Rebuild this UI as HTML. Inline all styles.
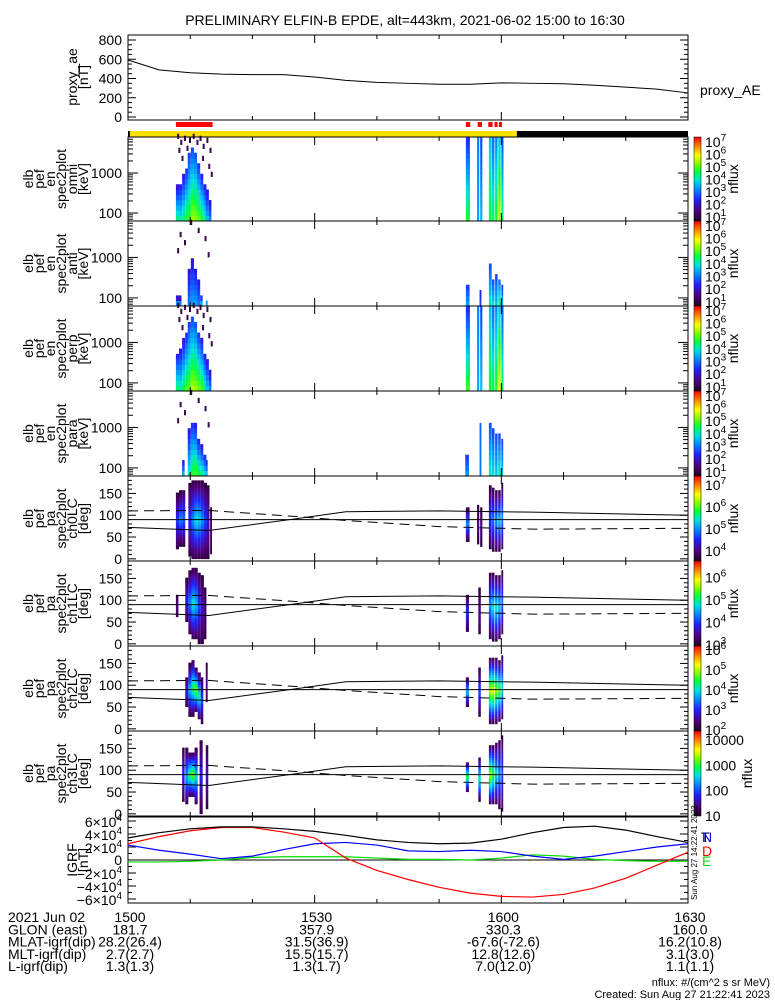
<!DOCTYPE html>
<html><head><meta charset="utf-8">
<style>
html,body{margin:0;padding:0;background:#fff;}
svg{display:block;font-family:"Liberation Sans",sans-serif;}
</style></head>
<body>
<svg id="chart" width="775" height="1000" viewBox="0 0 775 1000" xmlns="http://www.w3.org/2000/svg">
<defs>
<linearGradient id="cbar" x1="0" y1="1" x2="0" y2="0">
<stop offset="0" stop-color="#200020"/><stop offset="0.12" stop-color="#500080"/>
<stop offset="0.25" stop-color="#2020ff"/><stop offset="0.38" stop-color="#0090ff"/>
<stop offset="0.48" stop-color="#00e0e0"/><stop offset="0.58" stop-color="#00ff40"/>
<stop offset="0.68" stop-color="#80ff00"/><stop offset="0.78" stop-color="#ffff00"/>
<stop offset="0.88" stop-color="#ff9000"/><stop offset="1" stop-color="#ff0000"/>
</linearGradient>
</defs>
<text x="405" y="25" font-size="14" text-anchor="middle">PRELIMINARY ELFIN-B EPDE, alt=443km, 2021-06-02 15:00 to 16:30</text>
</svg>
<script>
// ---------- data ----------
const aeMinutes=[0,5,10,15,20,25,30,35,40,45,50,55,60,65,70,75,80,85,90];
const aeValues=[592,490,460,445,440,440,415,380,360,350,340,340,355,350,345,330,310,290,250];
const igrfMinutes=[0,5,10,15,20,25,30,35,40,45,50,55,60,65,70,75,80,85,90];
const igrfTotal=[3.4,4.2,4.8,5.1,5.1,4.8,4.4,3.8,3.1,2.7,2.5,2.6,3.2,4.2,5.0,5.2,4.6,3.6,2.7];
const igrfD=[2.5,3.6,4.5,5.0,5.0,4.3,3.4,0.3,-1.6,-3.0,-4.2,-5.1,-5.6,-5.7,-5.3,-4.3,-2.8,-0.8,1.2];
const igrfN=[2.3,1.5,0.9,0.2,0.6,1.6,2.5,2.7,2.3,1.4,1.3,1.5,1.3,0.6,0.1,0.6,1.3,2.0,2.5];
const igrfE=[-0.3,-0.3,-0.2,0,0.4,0.5,0.5,0.5,0.3,0.1,0.1,0,0.3,0.8,0.6,0.1,-0.1,-0.2,-0.2];
const lcMinutes=[0,13,27,35,50,65,90];
const lossCone=[72,65,92,108,110,107,100];
const antiLossCone=[110,111,97,88,74,68,70];
const sciZoneStart=[7.7,54.3,56.2,57.9,58.9,59.6];
const sciZoneEnd=[13.6,55.0,56.9,58.6,59.4,60.1];
const dayStart=0.3, nightStart=62.5;
// energy spectrogram columns: [minute, widthMin, logFluxBottom, logFluxTop, logEtop]
const omniCols=[[7.7,.5,4.2,2.0,2.6],[8.2,.5,4.0,2.0,2.7],[8.7,.5,4.3,2.0,2.9],[9.2,.5,4.6,2.2,3.1],[9.6,.5,4.8,2.5,3.4],[10.1,.5,5.3,2.5,3.6],[10.6,.5,5.2,2.5,3.5],[11.1,.5,5.0,2.3,3.2],[11.6,.5,4.6,2.2,2.9],[12.1,.5,4.2,2.0,2.7],[12.5,.5,3.5,2.0,2.5],[13.0,.4,3.0,2.0,2.2],
 [54.3,.65,4.6,2.2,3.9],[56.1,.35,3.3,3.0,3.9],[56.6,.35,3.5,2.5,3.9],[58.0,.45,4.5,3.5,3.9],[58.5,.4,4.3,2.8,3.9],[59.0,.4,4.6,3.0,3.9],[59.5,.4,5.5,3.5,3.9],[60.0,.35,4.3,2.5,3.9]];
const antiCols=[[7.7,.5,3.2,1.5,2.0],[8.2,.4,3.0,1.5,1.95],[9.6,.5,3.0,2.0,2.6],[10.1,.5,3.3,2.0,2.9],[10.6,.5,3.3,2.0,2.7],[11.1,.5,3.0,2.0,2.4],[11.6,.4,3.4,2.0,2.0],[12.5,.3,3.3,2.0,1.9],
 [54.3,.6,3.3,2.5,2.2],[56.5,.3,2.5,2.2,2.1],[58.0,.45,4.0,2.5,2.8],[58.5,.4,3.8,2.5,2.4],[59.0,.4,3.5,2.5,2.5],[59.5,.4,4.2,2.8,2.4],[60.0,.3,3.5,2.5,2.2]];
const perpCols=[[7.7,.5,4.3,2.0,2.7],[8.2,.5,4.1,2.0,2.8],[8.7,.5,4.5,2.0,3.0],[9.2,.5,4.8,2.2,3.2],[9.6,.5,5.0,2.5,3.4],[10.1,.5,5.4,2.5,3.6],[10.6,.5,5.3,2.5,3.5],[11.1,.5,5.1,2.3,3.2],[11.6,.5,4.8,2.2,3.0],[12.1,.5,4.3,2.0,2.7],[12.5,.5,3.6,2.0,2.5],[13.0,.4,3.0,2.0,2.2],
 [54.3,.65,4.8,2.2,3.9],[56.1,.35,3.4,3.0,3.9],[56.6,.35,3.6,2.5,3.9],[58.0,.45,4.6,3.5,3.9],[58.5,.4,4.4,2.8,3.9],[59.0,.4,4.7,3.0,3.9],[59.5,.4,5.7,3.5,3.9],[60.0,.35,4.4,2.5,3.9]];
const paraCols=[[8.7,.4,3.3,2.0,2.1],[9.6,.5,4.0,2.0,2.9],[10.1,.5,4.6,2.2,3.1],[10.6,.5,4.8,2.2,3.0],[11.1,.5,4.4,2.0,2.7],[11.6,.5,4.2,2.0,2.5],[12.1,.5,3.8,2.0,2.3],[12.5,.3,3.4,2.0,2.1],
 [54.2,.6,3.2,2.5,2.2],[56.5,.3,3.0,2.8,3.0],[58.0,.45,4.0,2.5,3.1],[58.5,.4,3.8,2.5,2.9],[59.0,.4,3.6,2.5,2.8],[59.5,.4,4.0,2.5,2.8],[60.0,.3,3.5,2.5,2.6]];
// sparse low-flux specks above the spectra: [minute, logE]
const specksHigh=[[7.9,3.85],[8.4,3.7],[9.0,3.8],[9.8,3.75],[10.4,3.85],[11.0,3.7],[11.5,3.8],[12.0,3.6],[12.6,3.75],[13.1,3.5],[8.1,3.5],[9.4,3.55],[11.9,3.3],[12.9,3.1],[8.6,3.3],[13.3,2.9]];
const specksLow=[[8.3,3.5],[9.0,3.3],[11.2,3.6],[12.3,3.4],[10.0,3.8],[12.8,3.0],[7.9,3.1]];
// pitch-angle columns: [minute, widthMin, logFluxPeak, paLow, paHigh]
const ch0Cols=[[7.7,.5,4.6,25,150],[8.2,.5,5.0,30,155],[8.7,.5,4.8,30,160],[9.7,.5,4.5,5,175],[10.2,.5,5.0,0,180],[10.7,.5,5.4,0,180],[11.2,.5,5.3,0,180],[11.7,.5,5.0,0,180],[12.2,.5,4.6,0,175],[12.7,.4,4.2,0,170],[13.2,.3,3.9,10,120],
 [54.3,.6,5.0,40,120],[56.1,.35,3.9,35,125],[56.6,.35,4.0,30,120],[58.0,.45,4.6,20,170],[58.5,.4,4.9,15,165],[59.0,.4,5.0,15,160],[59.5,.4,5.2,15,160],[60.0,.3,5.0,20,175]];
const ch1Cols=[[7.7,.4,3.4,60,115],[9.2,.5,3.8,50,150],[9.7,.5,4.3,20,170],[10.2,.5,4.8,10,175],[10.7,.5,4.6,10,175],[11.2,.5,4.0,0,165],[11.7,.5,3.6,0,160],[12.2,.4,3.3,10,130],
 [54.3,.5,4.0,30,115],[56.3,.4,3.5,20,130],[58.0,.45,4.4,10,165],[58.5,.4,4.8,5,165],[59.0,.4,4.8,5,160],[59.5,.4,4.6,10,160],[60.0,.3,4.2,20,170]];
const ch2Cols=[[9.2,.5,3.0,50,120],[9.7,.5,3.8,30,150],[10.2,.5,4.4,30,160],[10.7,.5,4.8,40,140],[11.2,.5,4.2,20,130],[11.7,.4,3.2,10,120],[12.5,.3,2.5,60,150],
 [54.3,.5,3.8,50,120],[56.3,.4,3.2,30,140],[58.0,.45,5.0,10,165],[58.5,.4,5.2,10,165],[59.0,.4,4.8,10,165],[59.5,.4,4.6,15,160],[60.0,.3,4.0,20,170]];
const ch3Cols=[[8.7,.4,1.8,30,150],[9.2,.5,2.4,20,150],[9.7,.5,3.0,40,140],[10.2,.5,3.3,40,140],[10.7,.5,2.6,20,150],[11.5,.5,1.8,0,170],[12.5,.4,1.6,10,160],
 [54.3,.5,3.0,50,120],[56.3,.4,2.8,30,130],[58.0,.45,3.4,20,160],[58.5,.4,3.0,20,160],[59.0,.4,2.6,20,165],[59.5,.4,2.3,10,170],[60.0,.3,2.0,5,180]];
const timeTickLabels=["1500","1530","1600","1630"];
const orbitRows=[["2021 Jun 02","1500","1530","1600","1630"],["GLON (east)","181.7","357.9","330.3","160.0"],["MLAT-igrf(dip)","28.2(26.4)","31.5(36.9)","-67.6(-72.6)","16.2(10.8)"],["MLT-igrf(dip)","2.7(2.7)","15.5(15.7)","12.8(12.6)","3.1(3.0)"],["L-igrf(dip)","1.3(1.3)","1.3(1.7)","7.0(12.0)","1.1(1.1)"]];

// ---------- helpers ----------
const NS="http://www.w3.org/2000/svg";
const svg=document.getElementById('chart');
const X0=128,X1=688;
const tx=m=>X0+m*(X1-X0)/90;
function mk(tag,attrs,parent){const e=document.createElementNS(NS,tag);for(const k in attrs)e.setAttribute(k,attrs[k]);(parent||svg).appendChild(e);return e;}
const stops=[[0,[32,0,32]],[.12,[80,0,128]],[.25,[32,32,255]],[.38,[0,144,255]],[.48,[0,224,224]],[.58,[0,255,64]],[.68,[128,255,0]],[.78,[255,255,0]],[.88,[255,144,0]],[1,[255,0,0]]];
function cmap(f){f=Math.max(0,Math.min(1,f));for(let i=1;i<stops.length;i++){if(f<=stops[i][0]){const a=stops[i-1],b=stops[i];const t=(f-a[0])/(b[0]-a[0]);const c=a[1].map((v,j)=>Math.round(v+(b[1][j]-v)*t));return `rgb(${c[0]},${c[1]},${c[2]})`;}}return 'rgb(255,0,0)';}
function line(x1,y1,x2,y2,g,w){return mk('line',{x1,y1,x2,y2,stroke:'#000','stroke-width':w||1},g);}
function text(x,y,s,g,opts){const t=mk('text',Object.assign({x,y,'font-size':13},opts||{}),g);t.textContent=s;return t;}

function timeTicks(g,top,bot){
  for(let m=0;m<=90;m+=10){const x=tx(m);const major=(m%30===0);const L=major?8:4;
    line(x,bot,x,bot-L,g);line(x,top,x,top+L,g);}
}
function frame(g,top,bot){mk('rect',{x:X0,y:top,width:X1-X0,height:bot-top,fill:'none',stroke:'#000','stroke-width':1},g);}
function yLabel(g,lines,cy){
  const xs=[]; const n=lines.length; const x1=88; 
  lines.forEach((s,i)=>{const x=x1-(n-1-i)*11;const t=text(x,cy,s,g,{'font-size':14,'text-anchor':'middle',transform:`rotate(-90 ${x} ${cy})`});});
}
function colorbar(g,top,bot,lo,hi,labels){
  const cb=mk('rect',{x:694,y:top,width:7,height:bot-top,fill:'url(#cbar)',stroke:'#000','stroke-width':0.5},g);
  
  
  const yv=v=>bot-(v-lo)/(hi-lo)*(bot-top);
  labels.forEach(L=>{const y=yv(L[0]);if(y<top-2||y>bot+4)return;
    if(L[1]){const t=text(705,y+5,L[1],g,{'font-size':14});}
    else{const t=mk('text',{x:705,y:y+6,'font-size':14},g);t.textContent='10';const s=mk('tspan',{dy:-6,'font-size':10},t);s.textContent=String(L[0]);}
  });
  const cy=(top+bot)/2;const lx=labels[0][1]?752:738;
  text(lx,cy,'nflux',g,{'font-size':14,'text-anchor':'middle',transform:`rotate(-90 ${lx} ${cy})`});
}

// ---------- proxy AE ----------
(function(){
  const g=mk('g',{});
  
  
  const top=35,bot=120; const yv=v=>117-v*(77/800);
  frame(g,top,bot);
  for(let v=0;v<=800;v+=50){const y=yv(v);const L=v%200===0?8:4;line(X0,y,X0+L,y,g);line(X1,y,X1-L,y,g);
    if(v%200===0)text(122,y+5,String(v),g,{'font-size':14,'text-anchor':'end'});}
  timeTicks(g,top,bot);
  const p=mk('polyline',{points:aeMinutes.map((m,i)=>tx(m)+','+yv(aeValues[i])).join(' '),fill:'none',stroke:'#000','stroke-width':1},g);
  
  
  yLabel(g,['proxy_ae','[nT]'],77);
  const t=text(700,95,'proxy_AE',g,{'font-size':14});
  
  
})();

// ---------- status bars ----------
(function(){
  const g=mk('g',{});
  
  
  sciZoneStart.forEach((s,i)=>{const r=mk('rect',{x:tx(s),y:122,width:tx(sciZoneEnd[i])-tx(s),height:5,fill:'#ff0000'},g);
    
    });
  mk('rect',{x:X0,y:131,width:tx(dayStart)-X0+1,height:6,fill:'#000'},g);
  const d=mk('rect',{x:tx(dayStart),y:131,width:tx(nightStart)-tx(dayStart),height:6,fill:'#ffe000'},g);
  
  
  const n=mk('rect',{x:tx(nightStart),y:131,width:X1-tx(nightStart),height:6,fill:'#000'},g);
  
  
})();

// ---------- energy spectrogram panels ----------
const eLo=1.8,eHi=3.9,nEbins=16;
function energyPanel(name,top,bot,cols,specks,cLo,cHi,cLabels,labLines){
  const g=mk('g',{});
  
  
  const yv=le=>bot-(le-eLo)/(eHi-eLo)*(bot-top);
  const bh=(eHi-eLo)/nEbins;
  cols.forEach(c=>{const [m,w,fb,ft,et]=c;
    for(let b=0;b<nEbins;b++){const le=eLo+b*bh; if(le>=et-1e-6)break;
      const f=fb+(ft-fb)*(le-eLo)/Math.max(et-eLo,0.01);
      const r=mk('rect',{x:tx(m),y:yv(le+bh),width:Math.max(tx(m+w)-tx(m),1.5),height:yv(le)-yv(le+bh)+0.3,fill:cmap((f-cLo)/(cHi-cLo))},g);
      
      }
  });
  specks.forEach(s=>{const r=mk('rect',{x:tx(s[0]),y:yv(s[1]+bh),width:2,height:yv(s[1])-yv(s[1]+bh),fill:'#3a0a4a'},g);
    
    });
  frame(g,top,bot);
  for(let d=1;d<=3;d++)for(let k=1;k<10;k++){const le=d+Math.log10(k);if(le<eLo||le>eHi)continue;const y=yv(le);const L=k===1?10:5;
    line(X0,y,X0+L,y,g);line(X1,y,X1-L,y,g);}
  text(122,yv(2)+5,'100',g,{'font-size':14,'text-anchor':'end'});
  text(122,yv(3)+5,'1000',g,{'font-size':14,'text-anchor':'end'});
  timeTicks(g,top,bot);
  colorbar(g,top,bot,cLo,cHi,cLabels);
  yLabel(g,labLines,(top+bot)/2);
}
const pow7=[[7],[6],[5],[4],[3],[2],[1]];
energyPanel('omni-energy-spectrogram',137,221,omniCols,specksHigh,0.6,7.3,pow7,['elb','pef','en','spec2plot','omni','[keV]']);
energyPanel('anti-energy-spectrogram',221,306,antiCols,specksLow,0.6,7.3,pow7,['elb','pef','en','spec2plot','anti','[keV]']);
energyPanel('perp-energy-spectrogram',306,391,perpCols,specksHigh,0.6,7.3,pow7,['elb','pef','en','spec2plot','perp','[keV]']);
energyPanel('para-energy-spectrogram',391,476,paraCols,specksLow,0.6,7.3,pow7,['elb','pef','en','spec2plot','para','[keV]']);

// ---------- pitch-angle panels ----------
const paLo=-5,paHi=190,nPA=32;
function paPanel(name,top,bot,cols,cLo,cHi,cLabels,labLines){
  const g=mk('g',{});
  
  
  const yv=p=>bot-(p-paLo)/(paHi-paLo)*(bot-top);
  const bh=180/nPA;
  cols.forEach(c=>{const [m,w,pk,pl,ph]=c;const half=(ph-pl)/2,mid=(ph+pl)/2;
    for(let b=0;b<nPA;b++){const p0=b*bh,p1=p0+bh,pc=(p0+p1)/2; if(pc<pl||pc>ph)continue;
      const f=pk-(pk-(cLo+0.15))*Math.abs(pc-mid)/Math.max(half,1);
      const r=mk('rect',{x:tx(m),y:yv(p1),width:Math.max(tx(m+w)-tx(m),1.5),height:yv(p0)-yv(p1)+0.3,fill:cmap((f-cLo)/(cHi-cLo))},g);
      
      }
  });
  frame(g,top,bot);
  for(let v=0;v<=180;v+=10){const y=yv(v);const L=v%50===0?8:4;line(X0,y,X0+L,y,g);line(X1,y,X1-L,y,g);
    if(v%50===0)text(122,y+5,String(v),g,{'font-size':14,'text-anchor':'end'});}
  timeTicks(g,top,bot);
  const h=line(X0,yv(90),X1,yv(90),g);
  
  
  const lc=mk('polyline',{points:lcMinutes.map((m,i)=>tx(m)+','+yv(lossCone[i])).join(' '),fill:'none',stroke:'#000','stroke-width':1},g);
  
  
  const alc=mk('polyline',{points:lcMinutes.map((m,i)=>tx(m)+','+yv(antiLossCone[i])).join(' '),fill:'none',stroke:'#000','stroke-width':1,'stroke-dasharray':'10,6'},g);
  
  
  colorbar(g,top,bot,cLo,cHi,cLabels);
  yLabel(g,labLines,(top+bot)/2);
}
paPanel('ch0lc-pitch-angle',476,561,ch0Cols,3.5,7.37,[[7],[6],[5],[4]],['elb','pef','pa','spec2plot','ch0LC','[deg]']);
paPanel('ch1lc-pitch-angle',561,646,ch1Cols,2.9,6.7,[[6],[5],[4],[3]],['elb','pef','pa','spec2plot','ch1LC','[deg]']);
paPanel('ch2lc-pitch-angle',646,731,ch2Cols,1.9,6.15,[[6],[5],[4],[3],[2]],['elb','pef','pa','spec2plot','ch2LC','[deg]']);
paPanel('ch3lc-pitch-angle',731,816,ch3Cols,1.0,4.35,[[4,'10000'],[3,'1000'],[2,'100'],[1,'10']],['elb','pef','pa','spec2plot','ch3LC','[deg]']);

// ---------- IGRF ----------
(function(){
  const g=mk('g',{});
  
  
  const top=817,bot=903; const yv=v=>860-v*6.5;
  frame(g,top,bot);
  for(let v=-6;v<=6;v+=1){const y=yv(v);const L=v%2===0?8:4;line(X0,y,X0+L,y,g);line(X1,y,X1-L,y,g);
    if(v%2===0){if(v===0)text(122,y+5,'0',g,{'font-size':14,'text-anchor':'end'});
      else{const t=mk('text',{x:122,y:y+6,'font-size':14,'text-anchor':'end'},g);const a=mk('tspan',{},t);a.textContent=(v<0?'\u2212':'')+Math.abs(v)+'\u00d710';const s=mk('tspan',{dy:-6,'font-size':10},t);s.textContent='4';}}}
  timeTicks(g,top,bot);
  line(X0,yv(0),X1,yv(0),g);
  const series=[[igrfE,'#00dd00','igrf-e-line'],[igrfN,'#0000ff','igrf-n-line'],[igrfD,'#ff0000','igrf-d-line'],[igrfTotal,'#000','igrf-total-line']];
  series.forEach(s=>{const p=mk('polyline',{points:igrfMinutes.map((m,i)=>tx(m)+','+yv(s[0][i])).join(' '),fill:'none',stroke:s[1],'stroke-width':1.2},g);
    
    });
  yLabel(g,['IGRF','[nT]'],860);
  text(701,842,'T',g,{'font-size':14});
  text(702,842,'N',g,{'font-size':14,fill:'#0000ff'});
  text(702,856,'D',g,{'font-size':14,fill:'#ff0000'});
  text(702,866,'E',g,{'font-size':14,fill:'#00dd00'});
  text(697,900,'Sun Aug 27 14:22:41 2023',g,{'font-size':8,transform:'rotate(-90 697 900)'});
})();

// ---------- orbit table ----------
(function(){
  const g=mk('g',{});
  
  
  const colX=[tx(0),tx(30),tx(60),tx(90)];
  orbitRows.forEach((r,i)=>{const y=922+i*12.3;
    text(8,y,r[0],g,{'font-size':14});
    for(let j=1;j<5;j++)text(colX[j-1]+2,y,r[j],g,{'font-size':14,'text-anchor':'middle'});
  });
  text(770,986,'nflux: #/(cm^2 s sr MeV)',g,{'font-size':11,'text-anchor':'end'});
  text(770,998,'Created: Sun Aug 27 21:22:41 2023',g,{'font-size':11,'text-anchor':'end'});
})();
</script>
</body></html>
